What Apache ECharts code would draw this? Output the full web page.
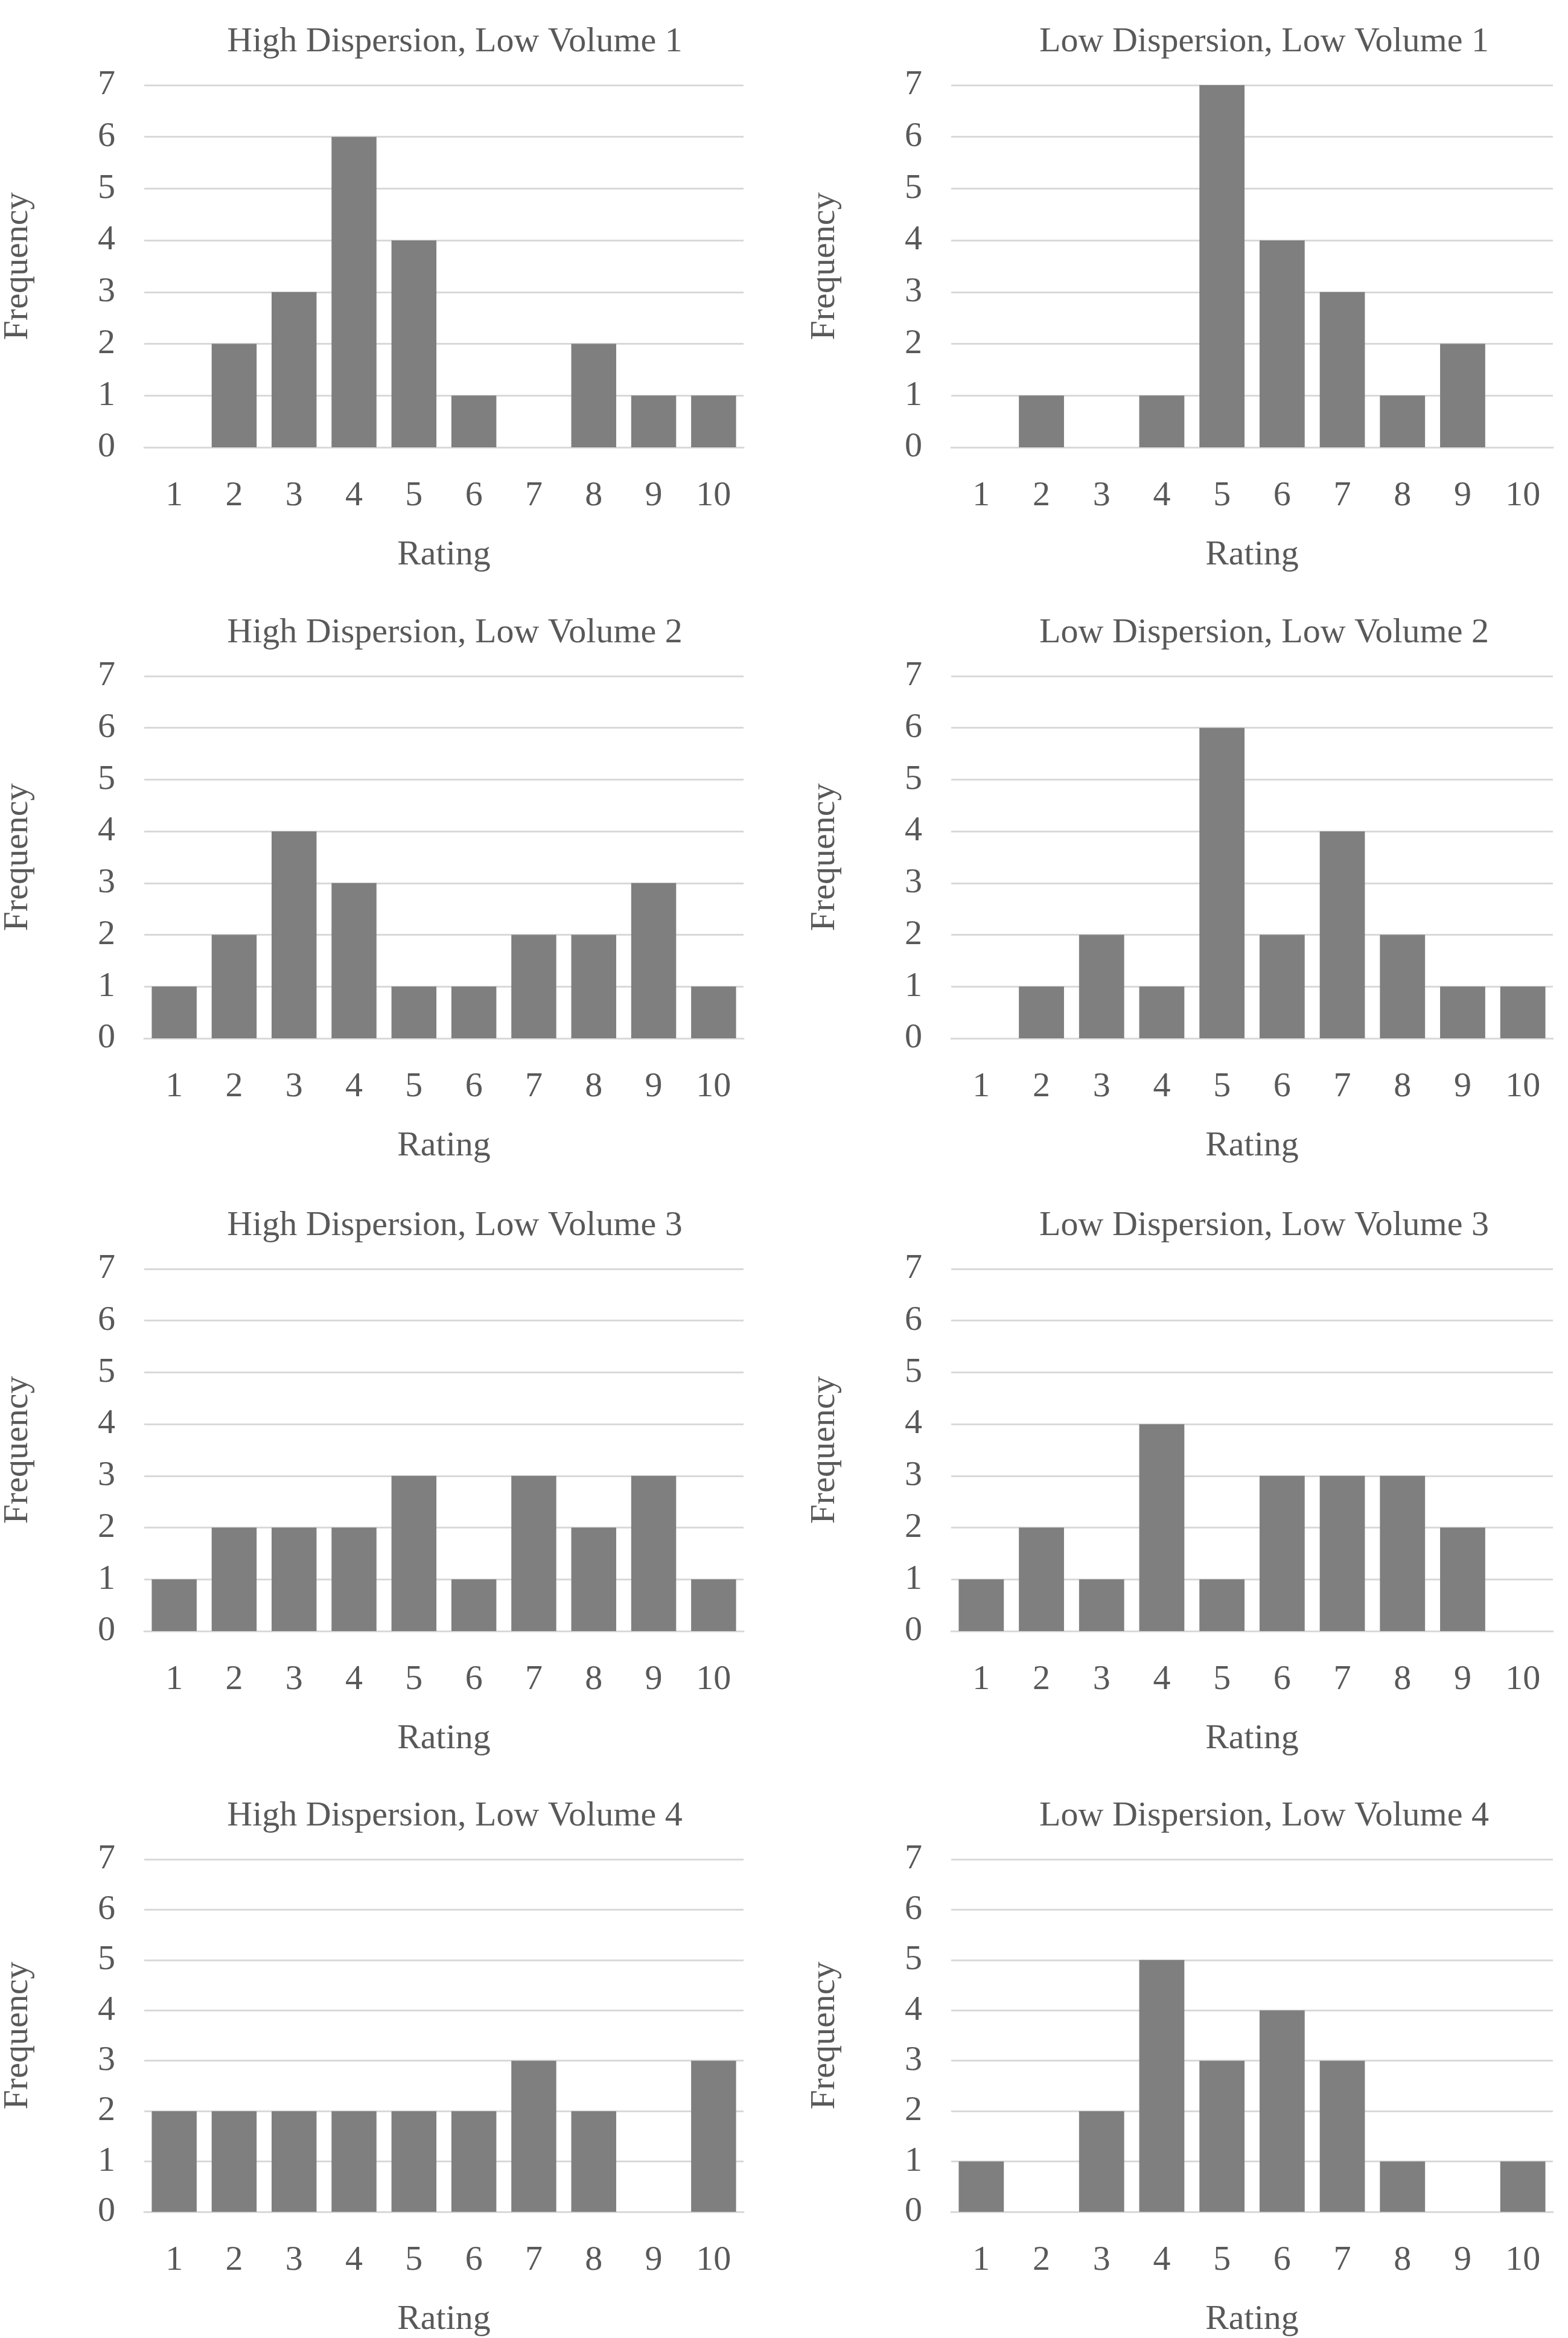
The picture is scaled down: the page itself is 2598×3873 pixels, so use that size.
<!DOCTYPE html>
<html><head><meta charset="utf-8">
<script src="https://cdn.jsdelivr.net/npm/echarts@6/dist/echarts.min.js"></script>
<style>html,body{margin:0;background:#fff}#c{width:2598px;height:3873px}</style>
</head><body><div id="c"></div>
<script>
const ratings = ['1','2','3','4','5','6','7','8','9','10'];
const titles = [
  'High Dispersion, Low Volume 1', 'Low Dispersion, Low Volume 1',
  'High Dispersion, Low Volume 2', 'Low Dispersion, Low Volume 2',
  'High Dispersion, Low Volume 3', 'Low Dispersion, Low Volume 3',
  'High Dispersion, Low Volume 4', 'Low Dispersion, Low Volume 4'
];
const hd1 = [0,2,3,6,4,1,0,2,1,1];
const ld1 = [0,1,0,1,7,4,3,1,2,0];
const hd2 = [1,2,4,3,1,1,2,2,3,1];
const ld2 = [0,1,2,1,6,2,4,2,1,1];
const hd3 = [1,2,2,2,3,1,3,2,3,1];
const ld3 = [1,2,1,4,1,3,3,3,2,0];
const hd4 = [2,2,2,2,2,2,3,2,0,3];
const ld4 = [1,0,2,5,3,4,3,1,0,1];
const panels = [hd1, ld1, hd2, ld2, hd3, ld3, hd4, ld4];

const font = 'Liberation Serif';
const fs = 58;
const lefts = [235, 1576];
const tops = [141, 1120, 2102, 3080];
const W = 997, H = 600;

const grid = [], xAxis = [], yAxis = [], series = [], title = [];
panels.forEach((vals, i) => {
  const l = lefts[i % 2], t = tops[Math.floor(i / 2)];
  grid.push({ left: l, top: t, width: W, height: H });
  title.push({ text: titles[i], left: l + W / 2 + 15, top: t - 105, textAlign: 'center',
    textStyle: { fontFamily: font, fontSize: fs, fontWeight: 'normal', color: '#595959' } });
  xAxis.push({ type: 'category', gridIndex: i, data: ratings, name: 'Rating',
    nameLocation: 'middle', nameGap: 150,
    nameTextStyle: { fontFamily: font, fontSize: fs, color: '#595959' },
    axisTick: { show: false }, axisLine: { lineStyle: { color: '#d9d9d9', width: 3 } },
    axisLabel: { fontFamily: font, fontSize: fs, color: '#595959', margin: 52 } });
  yAxis.push({ type: 'value', gridIndex: i, min: 0, max: 7, interval: 1, name: 'Frequency',
    nameLocation: 'middle', nameGap: 180,
    nameTextStyle: { fontFamily: font, fontSize: fs, color: '#595959' },
    axisLine: { show: false }, axisTick: { show: false },
    splitLine: { lineStyle: { color: '#d9d9d9', width: 3 } },
    axisLabel: { fontFamily: font, fontSize: fs, color: '#595959', margin: 48 } });
  series.push({ type: 'bar', xAxisIndex: i, yAxisIndex: i, data: vals,
    barCategoryGap: '25%', itemStyle: { color: '#7f7f7f' } });
});

const chart = echarts.init(document.getElementById('c'));
chart.setOption({ animation: false, backgroundColor: '#fff', title, grid, xAxis, yAxis, series });
</script></body></html>
